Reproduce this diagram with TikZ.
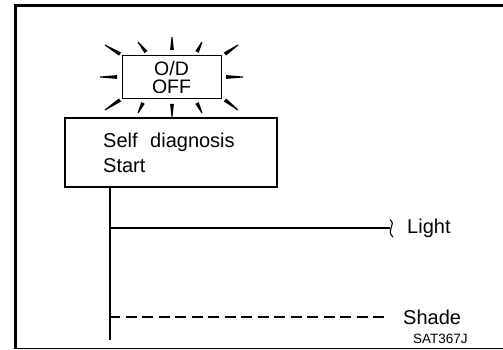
\documentclass[tikz,border=0pt]{standalone}
\usepackage{fontspec}
\setmainfont{Liberation Sans}
\usetikzlibrary{calc}
\newcommand\myray[2]{\fill ($(#1)!1.9pt!90:(#2)$) -- ($(#1)!1.9pt!-90:(#2)$) -- ($(#2)!0.5pt!90:(#1)$) -- ($(#2)!0.5pt!-90:(#1)$) -- cycle;}
\begin{document}
\begin{tikzpicture}[x=1pt,y=-1pt,
  boxtext/.style={font=\fontsize{19.5}{18}\selectfont},
  labeltext/.style={font=\fontsize{20}{24}\selectfont, inner sep=0pt},
  wire/.style={line width=2pt},
  frame/.style={line width=3pt}]
\useasboundingbox (0,0) rectangle (503,350);
% frame
\draw[frame] (503,5.3) -- (15.3,5.3) -- (15.3,348);
\draw[line width=1.2pt] (14,348.3) -- (503,348.3);
% O/D OFF lamp
\node[draw, line width=1pt, minimum width=99pt, minimum height=43pt, inner sep=0pt,
      align=center, boxtext] (od) at (171.5,77.5) {O/D\\OFF};
\myray{172,50}{172,37}
\myray{146,52}{138,42}
\myray{197,52}{202,42}
\myray{120,54}{105,45}
\myray{225,54}{238,45}
\myray{117,77}{100,77}
\myray{226,77}{243,77}
\myray{120,100}{105,110}
\myray{225,100}{238,110}
\myray{143,103}{138,113}
\myray{197,103}{202,113}
\myray{172,104}{172,117}
% self diagnosis box
\node[draw, line width=1.6pt, minimum width=212pt, minimum height=69pt, inner sep=0pt] (sd) at (171,152.5) {};
\node[labeltext, anchor=base west] (sdt1) at (103,147) {Self\hspace{0.35em} diagnosis};
\node[labeltext, anchor=base west] (sdt2) at (103,172) {Start};
% lines
\coordinate (vtop) at (110,187);
\coordinate (vbot) at (110,340);
\coordinate (lj) at (110,228);
\coordinate (le) at (390,228);
\coordinate (sj) at (110,317);
\coordinate (se) at (389,317);
\draw[wire] (vtop) -- (vbot);
\draw[wire] (lj) -- (le);
\draw[line width=1.1pt] (390,219.5) .. controls (397,225) and (385,230) .. (393,237);
\draw[wire, dash pattern=on 11pt off 5.5pt, dash phase=1pt] (sj) -- (se);
\node[labeltext, anchor=west] (light) at (407,228) {Light};
\node[labeltext, anchor=west] (shade) at (403,317) {Shade};
\node[font=\fontsize{13.5}{16}\selectfont, inner sep=0pt, anchor=base west] (code) at (413,343) {SAT367J};
\end{tikzpicture}
\end{document}
